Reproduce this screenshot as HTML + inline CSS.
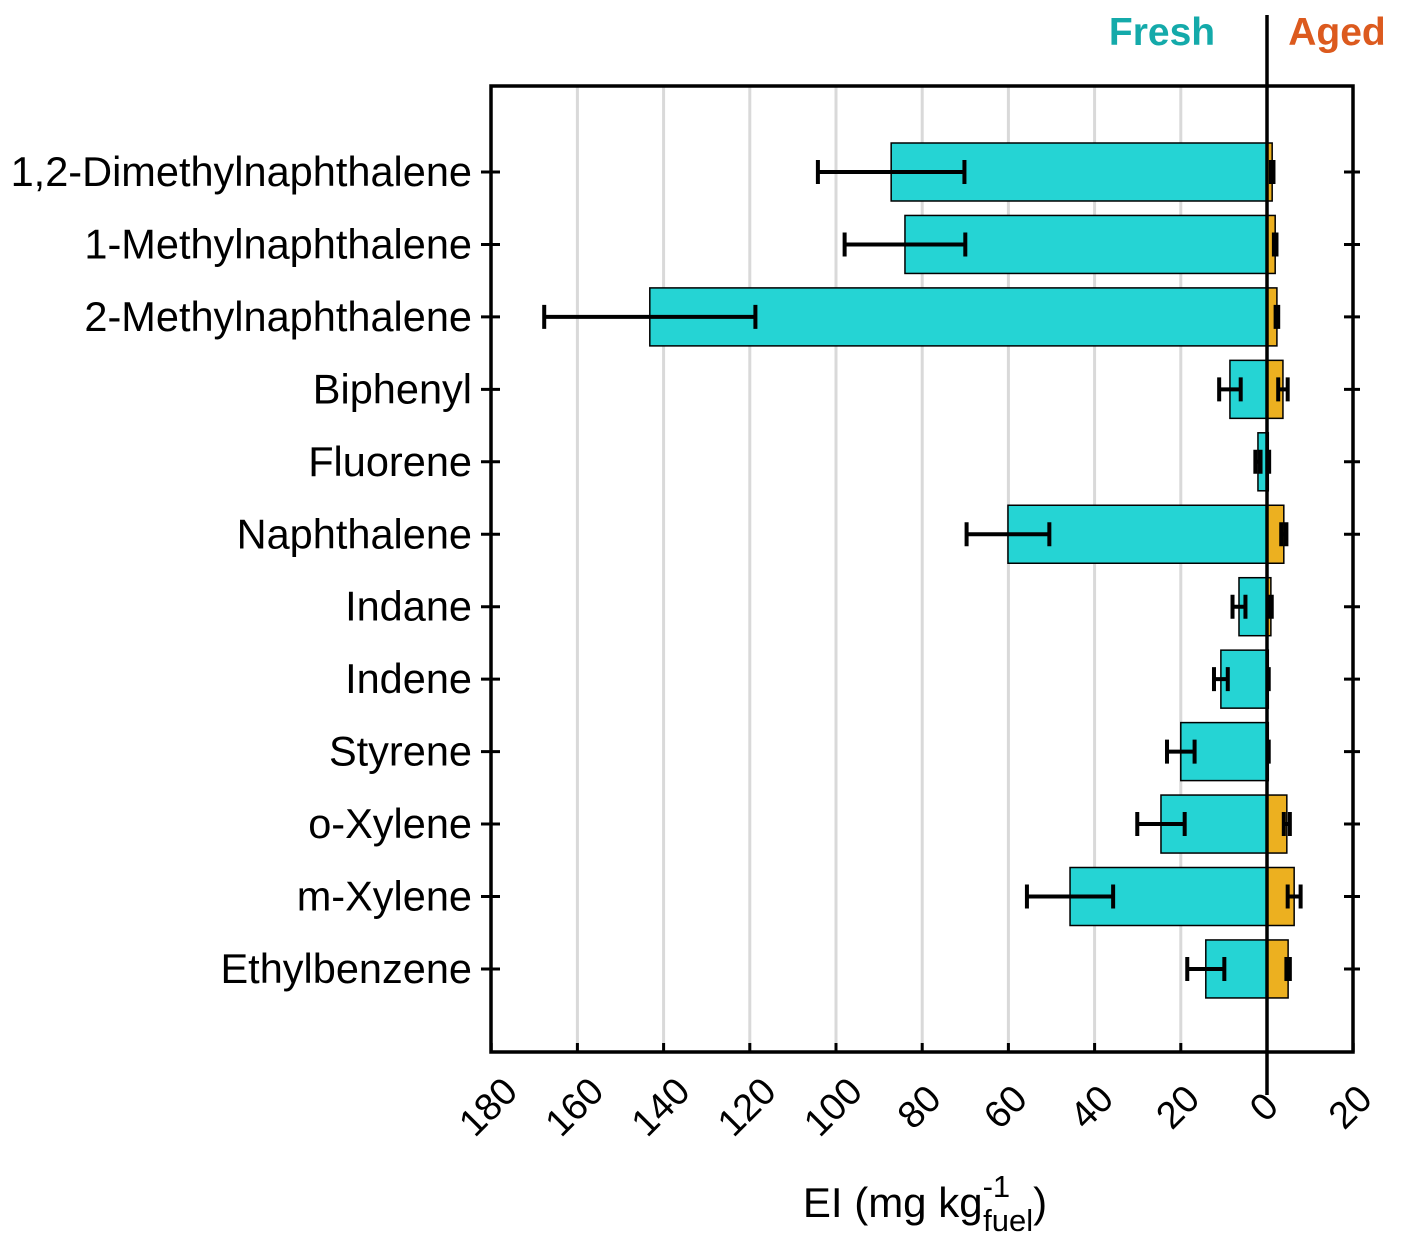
<!DOCTYPE html>
<html><head><meta charset="utf-8"><style>
body{margin:0;background:#fff}
svg text{font-family:"Liberation Sans",Arial,sans-serif}
</style></head><body>
<svg id="chart" width="1401" height="1255">
<g id="grid"></g><g id="bars"></g><g id="axes"></g>
<text x="1162" y="45" font-size="39" font-weight="bold" fill="#14aaaa" text-anchor="middle">Fresh</text>
<text x="1337" y="45" font-size="39" font-weight="bold" fill="#dc5a1e" text-anchor="middle">Aged</text>
<text x="925" y="1217" font-size="42" text-anchor="middle">EI (mg kg<tspan dy="-20" font-size="31">-1</tspan><tspan dy="34" dx="-27" font-size="31">fuel</tspan><tspan dy="-14">)</tspan></text>
</svg>
<script>
const categories=["1,2-Dimethylnaphthalene","1-Methylnaphthalene","2-Methylnaphthalene","Biphenyl","Fluorene","Naphthalene","Indane","Indene","Styrene","o-Xylene","m-Xylene","Ethylbenzene"];
const freshValues=[87.2,84,143.2,8.6,2.1,60.1,6.5,10.7,20,24.6,45.7,14.2];
const freshErrors=[17,14,24.5,2.5,0.6,9.6,1.5,1.6,3.2,5.5,10,4.3];
const agedValues=[1.2,1.9,2.3,3.7,0.3,3.9,0.9,0.3,0.3,4.6,6.3,4.9];
const agedErrors=[0.3,0.3,0.3,1.1,0.2,0.6,0.2,0.1,0.1,0.7,1.5,0.4];
const xTicks=[180,160,140,120,100,80,60,40,20,0,20];
const xTickVals=[180,160,140,120,100,80,60,40,20,0,-20];
const NS="http://www.w3.org/2000/svg";
const L=491,R=1353,T=86,B=1052;
function x(v){return 1267-v*4.31;}
function y(i){return 172+i*72.45;}
function mk(parent,tag,attrs){const e=document.createElementNS(NS,tag);for(const k in attrs)e.setAttribute(k,attrs[k]);document.getElementById(parent).appendChild(e);return e;}
xTickVals.forEach((v,i)=>{
 if(v>0&&v<180){const g=mk('grid','line',{x1:x(v),x2:x(v),y1:T,y2:B,stroke:'#d9d9d9','stroke-width':3});
 
 }
 const t=mk('axes','line',{x1:x(v),x2:x(v),y1:B,y2:B-9,stroke:'#000','stroke-width':3});
 
 
 const lb=mk('axes','text',{x:0,y:0,'font-size':38,'text-anchor':'middle',transform:`translate(${x(v)+6},${B+64}) rotate(-45)`});
 lb.textContent=xTicks[i];
 
 
});
function errbar(cx,cy,e,dir){
 const b=x(cx+e*dir),c=x(cx-e*dir);
 const g=mk('bars','path',{d:`M${b},${cy}H${c}M${b},${cy-12}V${cy+12}M${c},${cy-12}V${cy+12}`,stroke:'#000','stroke-width':4,fill:'none'});
 
 
}
categories.forEach((c,i)=>{
 const cy=y(i),h=58;
 const fb=mk('bars','rect',{x:x(freshValues[i]),y:cy-h/2,width:x(0)-x(freshValues[i]),height:h,fill:'#25d4d4',stroke:'#000','stroke-width':1.5});
 
 
 const ab=mk('bars','rect',{x:x(0),y:cy-h/2,width:x(0)-x(agedValues[i]),height:h,fill:'#ecb020',stroke:'#000','stroke-width':1.5});
 
 
 errbar(freshValues[i],cy,freshErrors[i],1);
 errbar(-agedValues[i],cy,agedErrors[i],1);
 const lb=mk('axes','text',{x:472,y:cy+14,'font-size':41.5,'text-anchor':'end'});
 lb.textContent=c;
 
 
 const t=mk('axes','path',{d:`M481,${cy}H500M1344,${cy}H1360`,stroke:'#000','stroke-width':3});
 
 
});
const fr=mk('axes','rect',{x:L,y:T,width:R-L,height:B-T,fill:'none',stroke:'#000','stroke-width':3.5});


const z=mk('axes','line',{x1:x(0),x2:x(0),y1:15,y2:1095,stroke:'#000','stroke-width':3.5});


</script>
</body></html>
